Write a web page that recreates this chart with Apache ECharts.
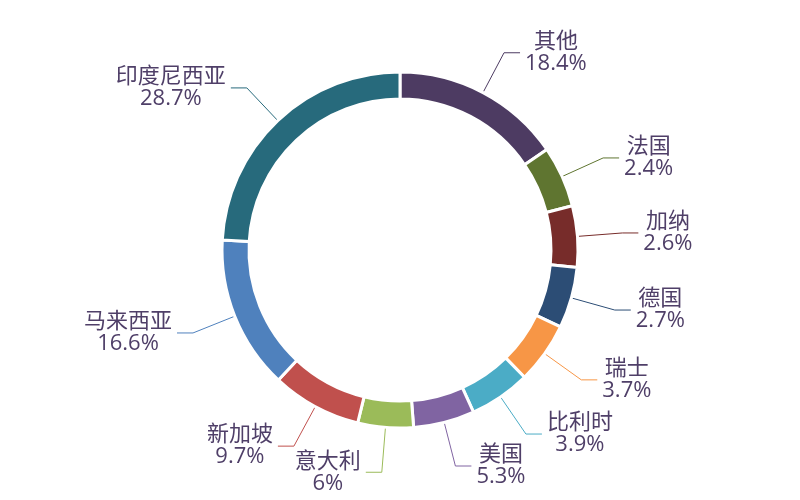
<!DOCTYPE html>
<html>
<head>
<meta charset="utf-8">
<title>pie</title>
<script src="https://cdn.jsdelivr.net/npm/echarts@6/dist/echarts.min.js"></script>
<style>
  html, body { margin: 0; padding: 0; background: #fff; }
  #main { width: 800px; height: 500px; }
</style>
</head>
<body>
<div id="main"></div>
<script>
// 国家 / 占比(%)
var countries = ['其他', '法国', '加纳', '德国', '瑞士', '比利时', '美国', '意大利', '新加坡', '马来西亚', '印度尼西亚'];
var shares = [18.4, 2.4, 2.6, 2.7, 3.7, 3.9, 5.3, 6, 9.7, 16.6, 28.7];
var colors = ['#4d3b62', '#5f7530', '#772c2a', '#2c4d75', '#f79646', '#4bacc6',
  '#8064a2', '#9bbb59', '#c0504d', '#4f81bd', '#276a7c'];

var mychart = echarts.init(document.getElementById('main'));
var option = {
  color: colors,
  series: [{
    type: 'pie',
    center: ['50%', '50%'],
    radius: [151, 178],
    startAngle: 90,
    minAngle: 20,//小扇区最小角度
    avoidLabelOverlap: false,
    itemStyle: {
      borderColor: '#fff',
      borderWidth: 3
    },
    label: {
      show: true,
      position: 'outside',
      formatter: '{t|{b}}\n{t|{c}%}',
      color: '#4f3f68',
      fontSize: 22,
      lineHeight: 22,
      fontFamily: "'Open Sans', 'Noto Sans CJK SC', sans-serif",
      distanceToLabelLine: 5,
      rich: {
        t: {
          align: 'center',
          fontSize: 22,
          lineHeight: 22,
          color: '#4f3f68',
          fontFamily: "'Open Sans', 'Noto Sans CJK SC', sans-serif"
        }
      }
    },
    labelLine: {
      show: true,
      length: 45,
      length2: 16,
      lineStyle: {
        width: 1
      }
    },
    data: countries.map(function (name, i) {
      return {name: name, value: shares[i]};
    })
  }]
};
mychart.setOption(option);
</script>
</body>
</html>
